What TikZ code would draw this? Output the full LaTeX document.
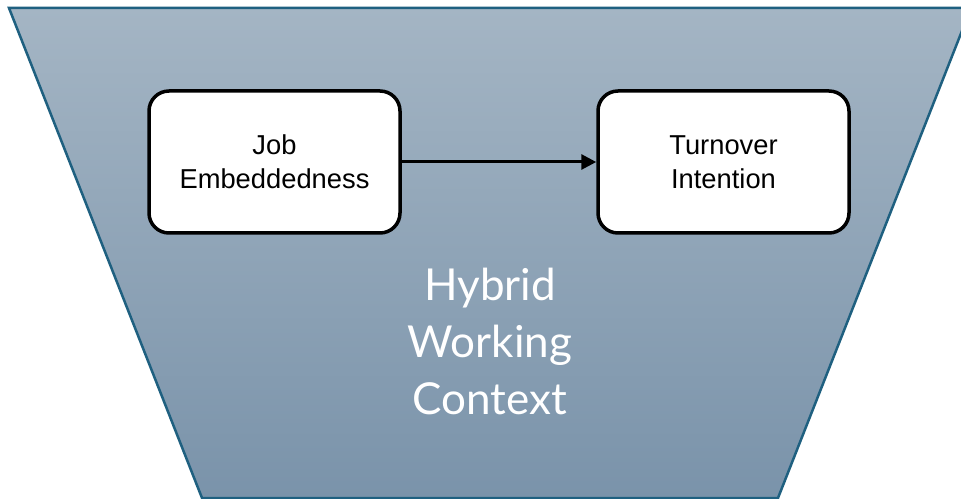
\documentclass[tikz,border=0pt]{standalone}
\usepackage{fontspec}
\setmainfont{Liberation Sans}
\newfontfamily\contextfont{Lato}
\usepackage{tikz}
\usetikzlibrary{arrows.meta}
\definecolor{funneltop}{RGB}{164,181,196}
\definecolor{funnelbot}{RGB}{122,147,170}
\definecolor{funnelline}{RGB}{31,96,128}

\begin{document}
\begin{tikzpicture}[x=0.75pt,y=-0.75pt]

\def\px{0.75pt}
\tikzset{
  construct/.style={draw=black, fill=white, line width=3.5*\px, rounded corners=20*\px,
    minimum width=251*\px, minimum height=142*\px, align=center,
    font=\fontsize{20.5}{25.5}\selectfont},
  link/.style={-{Triangle[length=15*\px,width=15*\px]}, line width=3*\px}
}

\useasboundingbox (0,0) rectangle (961,499);

% Context funnel
\shade[top color=funneltop, bottom color=funnelbot, draw=funnelline, line width=2.5*\px]
  (9,8) -- (971,8) -- (778,498) -- (202,498) -- cycle;

% Constructs
\node[construct] (job) at (274.5,162) {Job\\Embeddedness};
\node[construct] (turn) at (723.5,162) {Turnover\\Intention};

% Path
\draw[link] (job) -- (turn);

% Context label
\node[text=white, align=center, font=\contextfont\fontsize{33}{42.75}\selectfont]
  (context) at (490,341) {Hybrid\\Working\\Context};

\end{tikzpicture}
\end{document}
